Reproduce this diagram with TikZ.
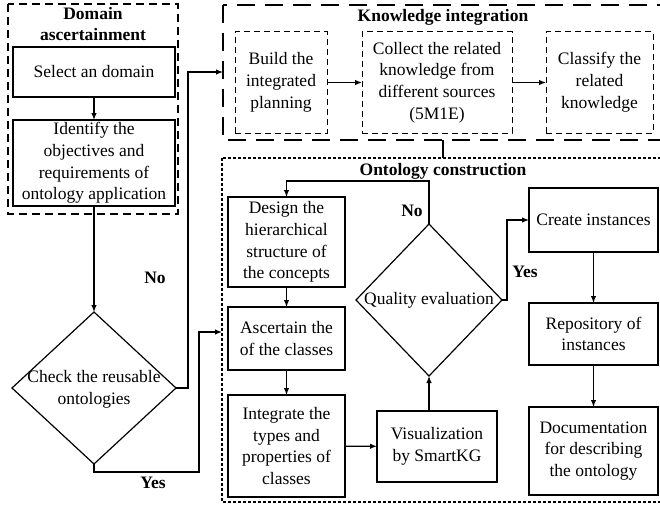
\documentclass[tikz,border=0pt]{standalone}
\usepackage{fontspec}
\setmainfont{Liberation Serif}
\usetikzlibrary{shapes.geometric,arrows.meta}
\begin{document}
\begin{tikzpicture}[x=1pt,y=-1pt,
  font=\fontsize{17.5}{21.8}\selectfont,
  box/.style={draw,line width=1.2pt,align=center,inner sep=0pt,outer sep=0pt},
  kbox/.style={draw,line width=1pt,dash pattern=on 6pt off 4pt,align=center,inner sep=0pt,outer sep=0pt},
  dia/.style={draw,line width=1.2pt,diamond,inner sep=0pt,outer sep=0pt},
  arr/.style={line width=1.2pt,-{Latex[length=7pt,width=5.5pt]}},
  ln/.style={line width=1.2pt},
  ttl/.style={font=\fontsize{17.5}{21.8}\selectfont\bfseries,align=center,inner sep=0pt},
  lbl/.style={font=\fontsize{17.5}{21.8}\selectfont\bfseries,inner sep=0pt},
  domframe/.style={line width=2.5pt,dash pattern=on 8pt off 5pt},
  kbframe/.style={line width=2.8pt,dash pattern=on 18pt off 10pt},
  ontframe/.style={line width=2.3pt,dash pattern=on 3pt off 2pt}]
\useasboundingbox (0,0) rectangle (660,508);
\clip (0,0) rectangle (660,508);
\fill[white] (0,0) rectangle (660,508);

% frames
\draw[domframe] (8,4) rectangle (178,214);
\draw[kbframe] (223,5) rectangle (720,140);
\draw[ontframe] (222,158) rectangle (720,502);
\node[ttl] (domt) at (93,24) {Domain\\ascertainment};
\node[ttl] (kbt) at (443,17) {Knowledge integration};
\node[ttl] (ontt) at (443,171) {Ontology construction};
\coordinate (kbbot) at (443,140);
\coordinate (onttop) at (443,158);
\coordinate (kin) at (223,72);
\coordinate (oin) at (222,332);
\coordinate (nobend) at (188,388);
\coordinate (yesbend) at (199,332);
\coordinate (qnobend) at (429,181);

% domain
\node[box,minimum width=162,minimum height=50] (sel) at (94,72) {Select an domain};
\node[box,minimum width=162,minimum height=86] (ide) at (94,163) {Identify the\\objectives and\\requirements of\\ontology application};
\node[dia,minimum width=164,minimum height=152] (chk) at (94,388) {};
\node[align=center,inner sep=0pt] (chkt) at (94,389) {Check the reusable\\ontologies};

% knowledge
\node[kbox,minimum width=92,minimum height=101] (bld) at (281,82.5) {Build the\\integrated\\planning};
\node[kbox,minimum width=150,minimum height=101] (col) at (437,82.5) {Collect the related\\knowledge from\\different sources\\(5M1E)};
\node[kbox,minimum width=107,minimum height=101] (cls) at (599.5,82.5) {Classify the\\related\\knowledge};

% ontology
\node[box,minimum width=117,minimum height=90] (des) at (286.5,242) {Design the\\hierarchical\\structure of\\the concepts};
\node[box,minimum width=117,minimum height=63] (asc) at (286.5,338.5) {Ascertain the\\of the classes};
\node[box,minimum width=117,minimum height=102] (int) at (286.5,446) {Integrate the\\types and\\properties of\\classes};
\node[box,minimum width=120,minimum height=71] (vis) at (437,446.5) {Visualization\\by SmartKG};
\node[dia,minimum width=146,minimum height=152] (qua) at (429,300) {};
\node[inner sep=0pt] (quat) at (429,300) {Quality evaluation};
\node[box,minimum width=129,minimum height=64] (cre) at (593.5,220) {Create instances};
\node[box,minimum width=129,minimum height=62] (rep) at (593.5,334) {Repository of\\instances};
\node[box,minimum width=129,minimum height=88] (doc) at (593.5,451) {Documentation\\for describing\\the ontology};

% labels
\node[lbl] (no1) at (155,278) {No};
\node[lbl] (yes1) at (153,483) {Yes};
\node[lbl] (no2) at (412,211) {No};
\node[lbl] (yes2) at (525,272) {Yes};

% connectors
\draw[arr] (sel) -- (ide);
\draw[arr] (ide) -- (chk.north);
\draw[arr] (chk.east) -- (nobend) |- (kin);
\draw[arr] (chk.south) -- ++(0,8) -| (yesbend) -- (oin);
\draw[arr] (bld) -- (col);
\draw[arr] (col) -- (cls);
\draw[ln] (kbbot) -- (onttop);
\draw[arr] (des) -- (asc);
\draw[arr] (asc) -- (int);
\draw[arr] (int) -- (vis);
\draw[arr] (vis.north -| qua.south) -- (qua.south);
\draw[arr] (qua.north) -- (qnobend) -| (des.north);
\draw[arr] (qua.east) -- ++(5,0) |- (cre.west);
\draw[arr] (cre) -- (rep);
\draw[arr] (rep) -- (doc);
\end{tikzpicture}
\end{document}
